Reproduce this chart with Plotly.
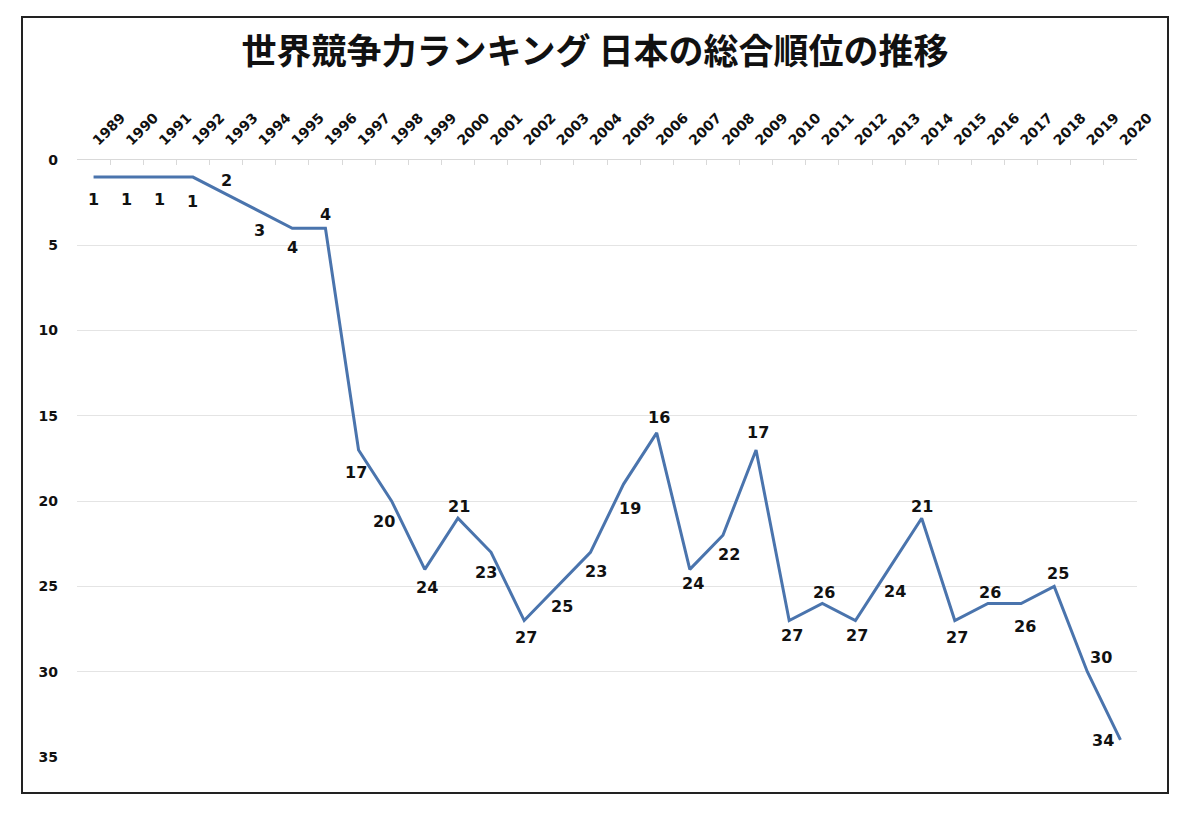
import plotly.graph_objects as go

# IMD world competitiveness ranking, Japan overall
years = [str(y) for y in range(1989, 2021)]
ranks = [1, 1, 1, 1, 2, 3, 4, 4, 17, 20, 24, 21, 23, 27, 25, 23,
         19, 16, 24, 22, 17, 27, 26, 27, 24, 21, 27, 26, 26, 25, 30, 34]
y_ticks = [0, 5, 10, 15, 20, 25, 30, 35]

title_text = "世界競争力ランキング 日本の総合順位の推移"

# label offsets from each point (px, dy positive = down)
label_offsets = [
    (0, 22), (0, 22), (0, 22), (0, 24), (0, -14), (0, 19), (0, 19), (0, -14),
    (-3, 23), (-8, 20), (2, 18), (1, -12), (-5, 20), (2, 17), (5, 20), (6, 19),
    (6, 24), (2, -15), (3, 14), (6, 19), (2, -17), (3, 15), (2, -11), (2, 15),
    (6, 22), (0, -12), (2, 17), (2, -11), (4, 23), (4, -13), (14, -14), (-17, 1),
]

# page has an 8px body margin, so the figure is drawn 8px in from the corner
PAD = 8
W, H = 1197 - 2 * PAD, 815 - 2 * PAD
L, T = 77 - PAD, 160 - PAD
pw, ph = 1060, 597
R, B = W - L - pw, H - T - ph

fig = go.Figure()
fig.add_trace(
    go.Scatter(
        x=years,
        y=ranks,
        mode="lines",
        line=dict(color="#4a74ad", width=3),
        hoverinfo="x+y",
        showlegend=False,
    )
)

# category axis: annotation x uses the category index
for i, (rk, (dx, dy)) in enumerate(zip(ranks, label_offsets)):
    fig.add_annotation(
        x=i, y=rk, text=str(rk), showarrow=False,
        xshift=dx, yshift=-dy,
        font=dict(family="DejaVu Sans", size=16, color="#111111", weight="bold"),
    )

# outer frame (reference pixels, shifted by the page margin)
fx0, fx1, fy0, fy1 = 22 - PAD, 1168 - PAD, 17 - PAD, 793 - PAD
fig.add_shape(
    type="rect", xref="paper", yref="paper",
    x0=(fx0 - L) / pw, x1=(fx1 - L) / pw,
    y0=(H - fy1 - B) / ph, y1=(H - fy0 - B) / ph,
    line=dict(color="#222222", width=2),
)

fig.update_layout(
    width=W,
    height=H,
    margin=dict(l=L, r=R, t=T, b=B),
    paper_bgcolor="white",
    plot_bgcolor="white",
    title=dict(
        text=title_text,
        x=(595 - PAD) / W, xref="container", xanchor="center",
        y=1 - (52 - PAD) / H, yref="container", yanchor="middle",
        font=dict(family="Noto Sans CJK JP", size=35, color="#111111", weight="bold"),
    ),
    xaxis=dict(
        type="category",
        side="top",
        range=[-0.5, len(years) - 0.5],
        tickangle=-45,
        tickson="boundaries",
        ticks="inside",
        ticklen=5,
        tickcolor="#d9d9d9",
        ticklabelstandoff=5,
        showline=True,
        linecolor="#d9d9d9",
        linewidth=1,
        showgrid=False,
        tickfont=dict(family="DejaVu Sans", size=14, color="#111111", weight="bold"),
    ),
    yaxis=dict(
        range=[35, 0],
        tickvals=y_ticks,
        showgrid=True,
        gridcolor="#e4e4e4",
        gridwidth=1,
        zeroline=False,
        showline=False,
        ticks="",
        ticklabelstandoff=18,
        tickfont=dict(family="DejaVu Sans", size=14, color="#111111", weight="bold"),
    ),
)

fig.write_html("out.html")
